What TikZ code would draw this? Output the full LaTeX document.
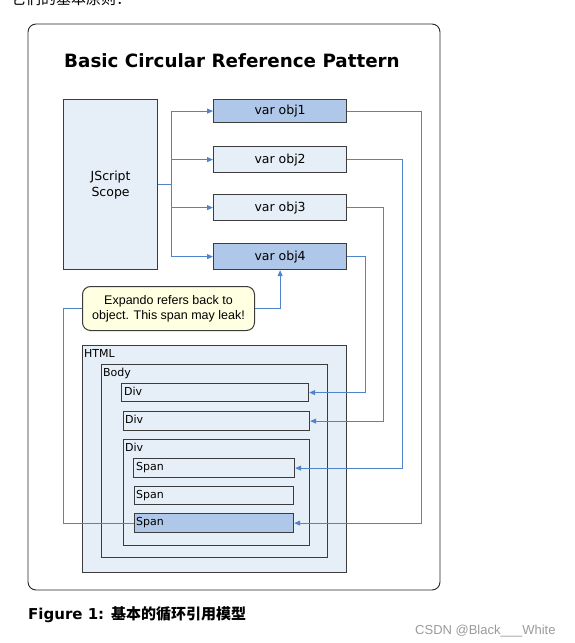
\documentclass[tikz,border=0pt]{standalone}
\usepackage{fontspec}
\setmainfont{DejaVu Sans}
\newfontfamily\arialf{Liberation Sans}
\newfontfamily\cjkf{Noto Sans CJK SC}
\usetikzlibrary{arrows.meta,calc}
\definecolor{boxline}{HTML}{3C3C3C}
\definecolor{lightfill}{HTML}{E6EEF7}
\definecolor{darkfill}{HTML}{AFC7E8}
\definecolor{conn}{HTML}{4F83CC}
\definecolor{callfill}{HTML}{FFFFE1}
\definecolor{wm}{HTML}{9A9A9A}
\tikzset{
  bx/.style={draw=boxline,line width=1.2pt,inner sep=0pt,anchor=north west,fill=lightfill},
  tag/.style={anchor=north west,inner sep=0pt,font=\fontsize{11}{12}\selectfont,text=black},
  wire/.style={draw=conn,line width=0.9pt},
  arr/.style={wire,-{Triangle[length=6pt,width=5pt]}},
}
\begin{document}
\begin{tikzpicture}[x=1pt,y=-1pt]
\useasboundingbox (0,0) rectangle (575,643);
% top cut text
\node[anchor=base west,inner sep=0pt,font=\cjkf\fontsize{15}{16}\selectfont] (toptext) at (11,4) {它们的基本原则：};
% outer frame
\draw[line width=0.9pt,draw=black!85,rounded corners=8pt] (28,24) rectangle (440,590);
\node[anchor=base,inner sep=0pt,font=\bfseries\fontsize{18.3}{20}\selectfont] (title) at (232,67) {Basic Circular Reference Pattern};
% JScript scope
\node[bx,minimum width=94pt,minimum height=170pt,align=center,font=\fontsize{12.5}{16}\selectfont] (js) at (63,99) {JScript\\Scope};
% vars
\node[bx,fill=darkfill,minimum width=133pt,minimum height=23pt,font=\fontsize{12.5}{14}\selectfont] (o1) at (213,99) {var obj1};
\node[bx,minimum width=133pt,minimum height=26pt,font=\fontsize{12.5}{14}\selectfont] (o2) at (213,146) {var obj2};
\node[bx,minimum width=133pt,minimum height=26pt,font=\fontsize{12.5}{14}\selectfont] (o3) at (213,194) {var obj3};
\node[bx,fill=darkfill,minimum width=133pt,minimum height=26pt,font=\fontsize{12.5}{14}\selectfont] (o4) at (213,243) {var obj4};
% callout
\node[draw=boxline,line width=1pt,fill=callfill,rounded corners=8pt,anchor=north west,minimum width=172pt,minimum height=44pt,inner sep=0pt,align=center,font=\arialf\fontsize{12.5}{15}\selectfont] (co) at (82,286) {Expando refers back to\\object. This span may leak!};
% HTML tree
\node[bx,minimum width=264pt,minimum height=227pt] (html) at (82,345) {};
\node[tag] (htmlT) at (84,349) {HTML};
\node[bx,minimum width=226pt,minimum height=193pt] (body) at (101,364) {};
\node[tag] (bodyT) at (103,368) {Body};
\node[bx,minimum width=187pt,minimum height=18pt] (d1) at (121,383) {};
\node[tag] (d1T) at (124,387) {Div};
\node[bx,minimum width=186pt,minimum height=19pt] (d2) at (123,411) {};
\node[tag] (d2T) at (125,415) {Div};
\node[bx,minimum width=186pt,minimum height=106pt] (d3) at (123,439) {};
\node[tag] (d3T) at (125,443) {Div};
\node[bx,minimum width=161pt,minimum height=19pt] (s1) at (133,458) {};
\node[tag] (s1T) at (136,462) {Span};
\node[bx,minimum width=159pt,minimum height=18pt] (s2) at (134,486) {};
\node[tag] (s2T) at (136,490) {Span};
\node[bx,fill=darkfill,minimum width=159pt,minimum height=19pt] (s3) at (134,513) {};
\node[tag] (s3T) at (136,517) {Span};
% column coordinates
\coordinate (trunk) at (171,0);
\coordinate (c1) at (421,0);
\coordinate (c2) at (402,0);
\coordinate (c3) at (383,0);
\coordinate (c4) at (365,0);
\coordinate (cl) at (63,0);
% JScript branches
\draw[wire] (js.east) -- (js.east -| trunk);
\draw[arr] (js.east -| trunk) |- (o1.west);
\draw[arr] (js.east -| trunk) |- (o2.west);
\draw[arr] (js.east -| trunk) |- (o3.west);
\draw[arr] (js.east -| trunk) |- (o4.west);
% returns
\draw[arr] (o1.east) -- (o1.east -| c1) |- (s3.east);
\draw[arr] (o2.east) -- (o2.east -| c2) |- (s1.east);
\draw[arr] (o3.east) -- (o3.east -| c3) |- (d2.east);
\draw[arr] (o4.east) -- (o4.east -| c4) |- (d1.east);
% expando
\draw[arr] (co.east) -| (o4.south);
\draw[wire] (co.west) -- (co.west -| cl) |- (s3.west);
% caption
\node[anchor=base west,inner sep=0pt,font=\bfseries\fontsize{15}{17}\selectfont] (cap) at (28,619) {Figure 1: {\cjkf\bfseries 基本的循环引用模型}};
\node[anchor=base west,inner sep=0pt,text=wm,font=\arialf\fontsize{13}{14}\selectfont] (wmk) at (415,634) {CSDN @Black\_\_\_White};
\end{tikzpicture}
\end{document}
